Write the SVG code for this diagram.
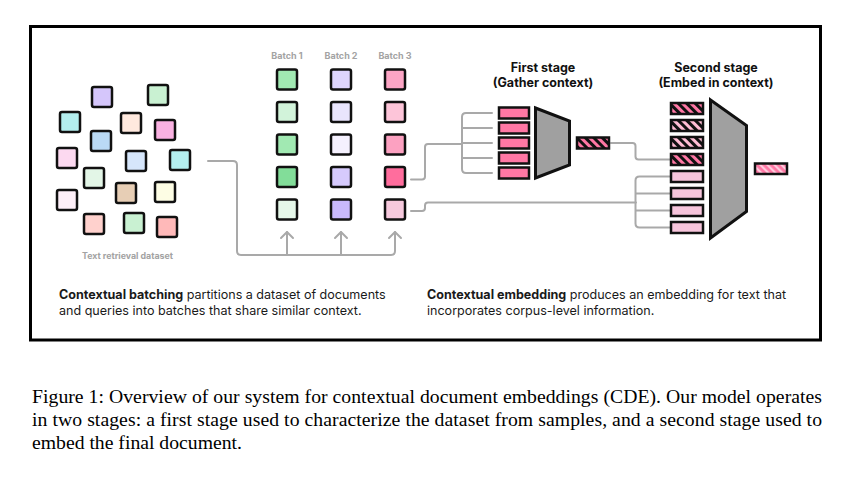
<svg xmlns="http://www.w3.org/2000/svg" width="854" height="477" viewBox="0 0 854 477">
<defs>
<style>
.sq{stroke:#111;stroke-width:2.5}
.bar{stroke:#111;stroke-width:2.5}
.ln{fill:none;stroke:#a9a9a9;stroke-width:2;stroke-linecap:round;stroke-linejoin:round}
.lbl{font-family:Inter,"Liberation Sans",sans-serif;font-weight:700;fill:#a3a3a3}
.ttl{font-family:Inter,"Liberation Sans",sans-serif;font-weight:700;font-size:12.5px;fill:#111;text-anchor:middle}
.desc{font-family:Inter,"Liberation Sans",sans-serif;font-size:12.55px;fill:#1a1a1a}
.cap{font-family:"Liberation Serif","Times New Roman",serif;font-size:19.7px;fill:#000}
.trap{fill:#a0a0a0;stroke:#111;stroke-width:3;stroke-linejoin:miter}
</style>
<pattern id="hDark" patternUnits="userSpaceOnUse" width="6" height="6" patternTransform="rotate(-45)">
<rect width="6" height="6" fill="#111"/><rect width="3" height="6" fill="#ff77a4"/>
</pattern>
<pattern id="hLight" patternUnits="userSpaceOnUse" width="6" height="6" patternTransform="rotate(-45)">
<rect width="6" height="6" fill="#111"/><rect width="3" height="6" fill="#ffbdd4"/>
</pattern>
<pattern id="hOut" patternUnits="userSpaceOnUse" width="5" height="5" patternTransform="rotate(-45)">
<rect width="5" height="5" fill="#ff77a4"/><rect width="2.2" height="5" fill="#ffc9dc"/>
</pattern>
</defs>
<rect width="854" height="477" fill="#fff"/>
<rect id="frame" x="30.5" y="26.5" width="790" height="313.5" fill="#fff" stroke="#000" stroke-width="3"/>

<g id="connectors">
<path class="ln" d="M208,161 H233 Q237,161 237,165 V251 Q237,255 241,255 H391 Q395,255 395,251 V232"/>
<path class="ln" d="M287,255 V232 M341,255 V232"/>
<path class="ln" d="M281,238 L287,232 L293,238 M335,238 L341,232 L347,238 M389,238 L395,232 L401,238"/>
<path class="ln" d="M411,179.5 H422 Q425,179.5 425,176.5 V147 Q425,144 428,144 H462"/>
<path class="ln" d="M492,113 H466 Q462,113 462,117 V169 Q462,173 466,173 H492 M462,128 H492 M462,143 H492 M462,158 H492"/>
<path class="ln" d="M411,211 H422 Q425,211 425,208 V205.5 Q425,202.5 428,202.5 H636"/>
<path class="ln" d="M611,143 H632.5 Q635.5,143 635.5,146 V156.5 Q635.5,159.5 638.5,159.5 H670"/>
<path class="ln" d="M670,176.5 H639.5 Q635.5,176.5 635.5,180.5 V223.5 Q635.5,227.5 639.5,227.5 H670 M635.5,193.5 H670 M635.5,210.5 H670"/>
</g>

<g id="dataset">
<rect class="sq" x="92" y="87" width="20" height="20" rx="2" fill="#d5c6fb"/>
<rect class="sq" x="148" y="85" width="20" height="20" rx="2" fill="#c9f1d2"/>
<rect class="sq" x="60" y="112" width="20" height="20" rx="2" fill="#b3eeee"/>
<rect class="sq" x="121" y="113" width="20" height="20" rx="2" fill="#ffe9de"/>
<rect class="sq" x="155" y="120" width="20" height="20" rx="2" fill="#f9b1e1"/>
<rect class="sq" x="91" y="131" width="20" height="20" rx="2" fill="#badaf5"/>
<rect class="sq" x="57" y="148" width="20" height="20" rx="2" fill="#fcd9f0"/>
<rect class="sq" x="126" y="151" width="20" height="20" rx="2" fill="#d6e6fb"/>
<rect class="sq" x="170" y="150" width="20" height="20" rx="2" fill="#b3eeee"/>
<rect class="sq" x="84" y="168" width="20" height="20" rx="2" fill="#e3f6e7"/>
<rect class="sq" x="116" y="183" width="20" height="20" rx="2" fill="#e7ceb5"/>
<rect class="sq" x="155" y="182" width="20" height="20" rx="2" fill="#fdfde4"/>
<rect class="sq" x="57" y="190" width="20" height="20" rx="2" fill="#fdeff8"/>
<rect class="sq" x="84" y="214" width="20" height="20" rx="2" fill="#ffd1cd"/>
<rect class="sq" x="124" y="213" width="20" height="20" rx="2" fill="#c9f1d2"/>
<rect class="sq" x="157" y="217" width="20" height="20" rx="2" fill="#ffb9b9"/>
<text class="lbl" x="127.5" y="259" font-size="8.8" text-anchor="middle">Text retrieval dataset</text>
</g>

<g id="batch1">
<text class="lbl" x="287" y="59" font-size="9" text-anchor="middle">Batch 1</text>
<rect class="sq" x="277" y="69.5" width="20" height="20" rx="2" fill="#a1e9b2"/>
<rect class="sq" x="277" y="102" width="20" height="20" rx="2" fill="#d2f3da"/>
<rect class="sq" x="277" y="134.5" width="20" height="20" rx="2" fill="#a1e9b2"/>
<rect class="sq" x="277" y="167" width="20" height="20" rx="2" fill="#82dd99"/>
<rect class="sq" x="277" y="199.5" width="20" height="20" rx="2" fill="#e5f7e9"/>
</g>
<g id="batch2">
<text class="lbl" x="341" y="59" font-size="9" text-anchor="middle">Batch 2</text>
<rect class="sq" x="331" y="69.5" width="20" height="20" rx="2" fill="#ded5fd"/>
<rect class="sq" x="331" y="102" width="20" height="20" rx="2" fill="#e9e5fd"/>
<rect class="sq" x="331" y="134.5" width="20" height="20" rx="2" fill="#f5f1fe"/>
<rect class="sq" x="331" y="167" width="20" height="20" rx="2" fill="#d6cafd"/>
<rect class="sq" x="331" y="199.5" width="20" height="20" rx="2" fill="#c9b9fc"/>
</g>
<g id="batch3">
<text class="lbl" x="395" y="59" font-size="9" text-anchor="middle">Batch 3</text>
<rect class="sq" x="385" y="69.5" width="20" height="20" rx="2" fill="#fca5c5"/>
<rect class="sq" x="385" y="102" width="20" height="20" rx="2" fill="#fdc5d9"/>
<rect class="sq" x="385" y="134.5" width="20" height="20" rx="2" fill="#fca1c1"/>
<rect class="sq" x="385" y="167" width="20" height="20" rx="2" fill="#ff6d9d"/>
<rect class="sq" x="385" y="199.5" width="20" height="20" rx="2" fill="#f6c9dd"/>
</g>

<g id="first-stage">
<text class="ttl" x="543" y="71.5">First stage</text>
<text class="ttl" x="543" y="87">(Gather context)</text>
<rect class="bar" x="499" y="107.5" width="30" height="11" fill="#ff77a4"/>
<rect class="bar" x="499" y="122.5" width="30" height="11" fill="#ff77a4"/>
<rect class="bar" x="499" y="137.5" width="30" height="11" fill="#ff77a4"/>
<rect class="bar" x="499" y="152.5" width="30" height="11" fill="#ff77a4"/>
<rect class="bar" x="499" y="167.5" width="30" height="11" fill="#ff77a4"/>
<polygon class="trap" points="535.5,108 569.5,121 569.5,165 535.5,178"/>
<rect class="bar" x="577" y="137.5" width="32" height="11" fill="url(#hDark)"/>
</g>

<g id="second-stage">
<text class="ttl" x="716" y="71.5">Second stage</text>
<text class="ttl" x="716" y="87">(Embed in context)</text>
<rect class="bar" x="671" y="103" width="32" height="11" fill="url(#hDark)"/>
<rect class="bar" x="671" y="120" width="32" height="11" fill="url(#hLight)"/>
<rect class="bar" x="671" y="137" width="32" height="11" fill="url(#hLight)"/>
<rect class="bar" x="671" y="154" width="32" height="11" fill="url(#hDark)"/>
<rect class="bar" x="671" y="171" width="32" height="11" fill="#f7c5dc"/>
<rect class="bar" x="671" y="188" width="32" height="11" fill="#f7c5dc"/>
<rect class="bar" x="671" y="205" width="32" height="11" fill="#f7c5dc"/>
<rect class="bar" x="671" y="222" width="32" height="11" fill="#f7c5dc"/>
<polygon class="trap" points="710.5,100 746.5,125.5 746.5,211.5 710.5,238"/>
<rect class="bar" x="755" y="163.5" width="32" height="10.5" fill="url(#hOut)"/>
</g>

<g id="descriptions">
<text class="desc" x="59" y="299"><tspan font-weight="700">Contextual batching</tspan> partitions a dataset of documents</text>
<text class="desc" x="59" y="315">and queries into batches that share similar context.</text>
<text class="desc" x="427" y="299"><tspan font-weight="700">Contextual embedding</tspan> produces an embedding for text that</text>
<text class="desc" x="427" y="315">incorporates corpus-level information.</text>
</g>

<g id="caption">
<text class="cap" x="32" y="403" textLength="790" lengthAdjust="spacing">Figure 1: Overview of our system for contextual document embeddings (CDE). Our model operates</text>
<text class="cap" x="32" y="426" textLength="790" lengthAdjust="spacing">in two stages: a first stage used to characterize the dataset from samples, and a second stage used to</text>
<text class="cap" x="32" y="449">embed the final document.</text>
</g>
</svg>
